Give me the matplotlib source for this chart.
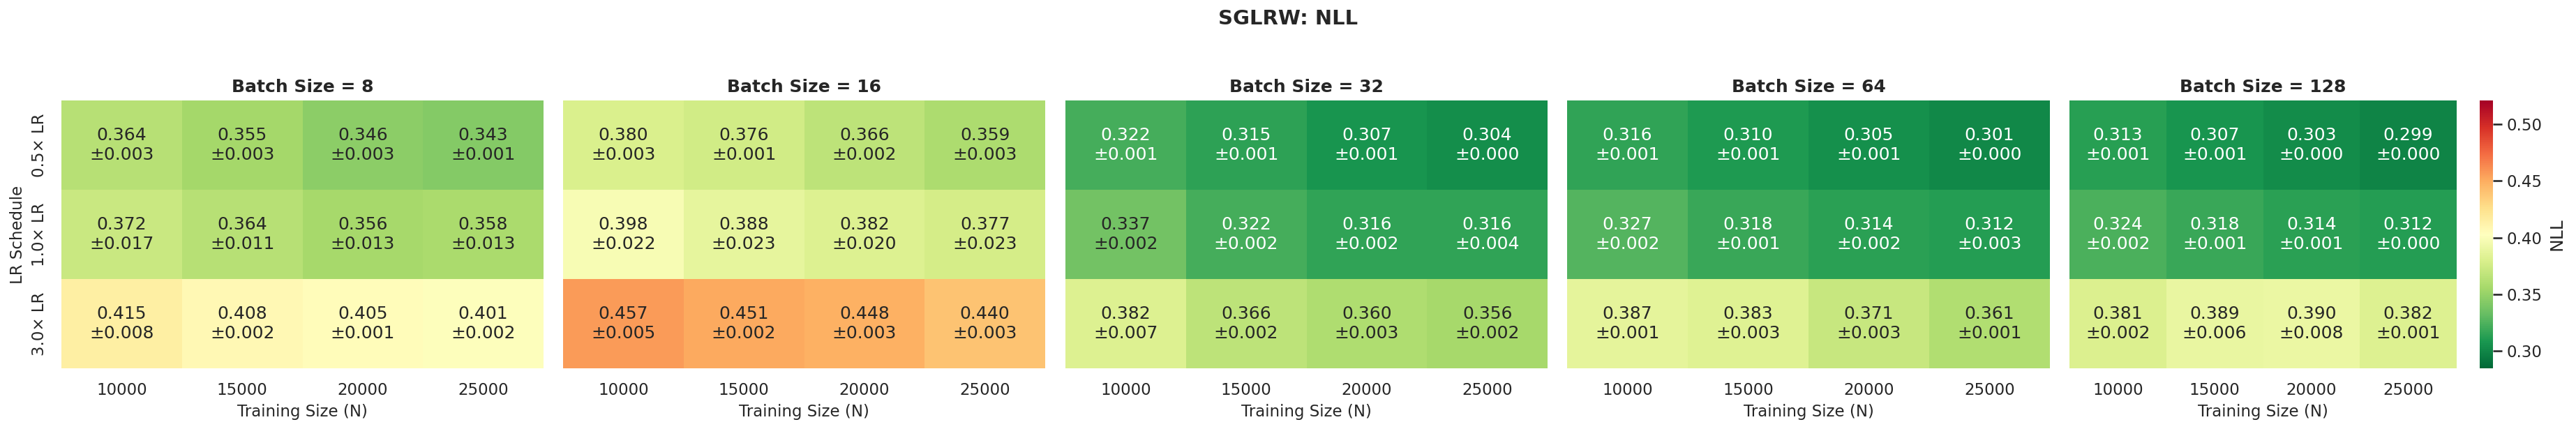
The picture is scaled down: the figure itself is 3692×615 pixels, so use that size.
import matplotlib
matplotlib.use('Agg')
import matplotlib.pyplot as plt
import numpy as np
import seaborn as sns

sns.set_theme(style='white')
plt.rcParams['font.family'] = ['DejaVu Sans']

batch_sizes = [8, 16, 32, 64, 128]
train_sizes = [10000, 15000, 20000, 25000]
lr_labels = ['0.5× LR', '1.0× LR', '3.0× LR']

# NLL mean / std per batch size (rows: LR schedule, cols: training size)
mean_bs8 = [[0.364, 0.355, 0.346, 0.343],
            [0.372, 0.364, 0.356, 0.358],
            [0.415, 0.408, 0.405, 0.401]]
std_bs8 = [[0.003, 0.003, 0.003, 0.001],
           [0.017, 0.011, 0.013, 0.013],
           [0.008, 0.002, 0.001, 0.002]]
mean_bs16 = [[0.380, 0.376, 0.366, 0.359],
             [0.398, 0.388, 0.382, 0.377],
             [0.457, 0.451, 0.448, 0.440]]
std_bs16 = [[0.003, 0.001, 0.002, 0.003],
            [0.022, 0.023, 0.020, 0.023],
            [0.005, 0.002, 0.003, 0.003]]
mean_bs32 = [[0.322, 0.315, 0.307, 0.304],
             [0.337, 0.322, 0.316, 0.316],
             [0.382, 0.366, 0.360, 0.356]]
std_bs32 = [[0.001, 0.001, 0.001, 0.000],
            [0.002, 0.002, 0.002, 0.004],
            [0.007, 0.002, 0.003, 0.002]]
mean_bs64 = [[0.316, 0.310, 0.305, 0.301],
             [0.327, 0.318, 0.314, 0.312],
             [0.387, 0.383, 0.371, 0.361]]
std_bs64 = [[0.001, 0.001, 0.001, 0.000],
            [0.002, 0.001, 0.002, 0.003],
            [0.001, 0.003, 0.003, 0.001]]
mean_bs128 = [[0.313, 0.307, 0.303, 0.299],
              [0.324, 0.318, 0.314, 0.312],
              [0.381, 0.389, 0.390, 0.382]]
std_bs128 = [[0.001, 0.001, 0.000, 0.000],
             [0.002, 0.001, 0.001, 0.000],
             [0.002, 0.006, 0.008, 0.001]]

means = [mean_bs8, mean_bs16, mean_bs32, mean_bs64, mean_bs128]
stds = [std_bs8, std_bs16, std_bs32, std_bs64, std_bs128]

vmin, vmax = 0.2848, 0.5208

W, H, DPI = 3692, 615, 150
fig = plt.figure(figsize=(W / DPI, H / DPI), dpi=DPI)

lefts = [88, 807, 1527, 2246, 2966]
widths = [691, 691, 691, 692, 555]
bot = 1 - 528 / H
hgt = 384 / H
cax = fig.add_axes([3554 / W, bot, 19 / W, hgt])

for i, bs in enumerate(batch_sizes):
    ax = fig.add_axes([lefts[i] / W, bot, widths[i] / W, hgt])
    m = np.array(means[i])
    s = np.array(stds[i])
    annot = np.array([[f'{m[r, c]:.3f}\n±{s[r, c]:.3f}' for c in range(m.shape[1])]
                      for r in range(m.shape[0])])
    last = i == len(batch_sizes) - 1
    sns.heatmap(m, ax=ax, cmap='RdYlGn_r', vmin=vmin, vmax=vmax,
                annot=annot, fmt='', annot_kws={'size': 12},
                xticklabels=train_sizes,
                yticklabels=lr_labels if i == 0 else False,
                cbar=last, cbar_ax=cax if last else None,
                cbar_kws={'label': 'NLL'} if last else None)
    ax.set_title(f'Batch Size = {bs}', fontsize=12, fontweight='bold')
    ax.set_xlabel('Training Size (N)', fontsize=11)
    ax.tick_params(axis='x', labelsize=11, rotation=0)
    if i == 0:
        ax.set_ylabel('LR Schedule', fontsize=11)
        ax.tick_params(axis='y', labelsize=11)
        for t in ax.get_yticklabels():
            t.set_rotation(90)
            t.set_va('center')
    else:
        ax.set_ylabel('')

cax.set_yticks([0.30, 0.35, 0.40, 0.45, 0.50])
cax.tick_params(labelsize=11)
cax.yaxis.label.set_size(12)

fig.suptitle('SGLRW: NLL', fontsize=14, fontweight='bold', y=0.956, va='center')

fig.savefig('out.png', dpi=DPI, facecolor='white')
plt.close(fig)
